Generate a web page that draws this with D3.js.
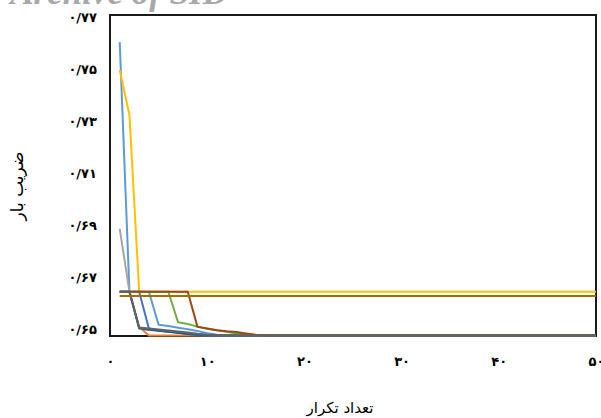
<!DOCTYPE html>
<html>
<head>
<meta charset="utf-8">
<script src="https://cdn.jsdelivr.net/npm/d3@7"></script>
<style>
  body { margin: 0; background: #fff; }
  svg { display: block; }
  .tick text { font-family: "DejaVu Sans", sans-serif; font-weight: bold; fill: #000; }
</style>
</head>
<body>
<svg id="chart" width="601" height="418"></svg>
<script>
// --- данные: значения по итерациям 1..50 ---
const xTicks = [0, 10, 20, 30, 40, 50];
const yTicks = [0.65, 0.67, 0.69, 0.71, 0.73, 0.75, 0.77];
const seriesColors = ["#5B9BD5", "#ED7D31", "#A5A5A5", "#FFC000", "#4472C4", "#70AD47", "#255E91", "#9E480E", "#636363", "#997300"];

const s1 = [0.7604, 0.6646, 0.6646, 0.6646, 0.6519, 0.6514, 0.6508, 0.6502, 0.6495, 0.6487,
  0.6481, 0.6478, 0.6478, 0.6478, 0.6478, 0.6478, 0.6478, 0.6478, 0.6478, 0.6478,
  0.6478, 0.6478, 0.6478, 0.6478, 0.6478, 0.6478, 0.6478, 0.6478, 0.6478, 0.6478,
  0.6478, 0.6478, 0.6478, 0.6478, 0.6478, 0.6478, 0.6478, 0.6478, 0.6478, 0.6478,
  0.6478, 0.6478, 0.6478, 0.6478, 0.6478, 0.6478, 0.6478, 0.6478, 0.6478, 0.6478];
const s2 = [0.6646, 0.6646, 0.6511, 0.6478, 0.6478, 0.6478, 0.6478, 0.6478, 0.6478, 0.6478,
  0.6478, 0.6478, 0.6478, 0.6478, 0.6478, 0.6478, 0.6478, 0.6478, 0.6478, 0.6478,
  0.6478, 0.6478, 0.6478, 0.6478, 0.6478, 0.6478, 0.6478, 0.6478, 0.6478, 0.6478,
  0.6478, 0.6478, 0.6478, 0.6478, 0.6478, 0.6478, 0.6478, 0.6478, 0.6478, 0.6478,
  0.6478, 0.6478, 0.6478, 0.6478, 0.6478, 0.6478, 0.6478, 0.6478, 0.6478, 0.6478];
const s3 = [0.6887, 0.6646, 0.6505, 0.6500, 0.6497, 0.6493, 0.6490, 0.6486, 0.6482, 0.6479,
  0.6478, 0.6478, 0.6478, 0.6478, 0.6478, 0.6478, 0.6478, 0.6478, 0.6478, 0.6478,
  0.6478, 0.6478, 0.6478, 0.6478, 0.6478, 0.6478, 0.6478, 0.6478, 0.6478, 0.6478,
  0.6478, 0.6478, 0.6478, 0.6478, 0.6478, 0.6478, 0.6478, 0.6478, 0.6478, 0.6478,
  0.6478, 0.6478, 0.6478, 0.6478, 0.6478, 0.6478, 0.6478, 0.6478, 0.6478, 0.6478];
const s4 = [0.7497, 0.7324, 0.6646, 0.6646, 0.6646, 0.6646, 0.6646, 0.6646, 0.6646, 0.6646,
  0.6646, 0.6646, 0.6646, 0.6646, 0.6646, 0.6646, 0.6646, 0.6646, 0.6646, 0.6646,
  0.6646, 0.6646, 0.6646, 0.6646, 0.6646, 0.6646, 0.6646, 0.6646, 0.6646, 0.6646,
  0.6646, 0.6646, 0.6646, 0.6646, 0.6646, 0.6646, 0.6646, 0.6646, 0.6646, 0.6646,
  0.6646, 0.6646, 0.6646, 0.6646, 0.6646, 0.6646, 0.6646, 0.6646, 0.6646, 0.6646];
const s5 = [0.6646, 0.6646, 0.6646, 0.6505, 0.6497, 0.6492, 0.6488, 0.6484, 0.6480, 0.6478,
  0.6478, 0.6478, 0.6478, 0.6478, 0.6478, 0.6478, 0.6478, 0.6478, 0.6478, 0.6478,
  0.6478, 0.6478, 0.6478, 0.6478, 0.6478, 0.6478, 0.6478, 0.6478, 0.6478, 0.6478,
  0.6478, 0.6478, 0.6478, 0.6478, 0.6478, 0.6478, 0.6478, 0.6478, 0.6478, 0.6478,
  0.6478, 0.6478, 0.6478, 0.6478, 0.6478, 0.6478, 0.6478, 0.6478, 0.6478, 0.6478];
const s6 = [0.6646, 0.6646, 0.6646, 0.6646, 0.6646, 0.6646, 0.6529, 0.6522, 0.6512, 0.6504,
  0.6498, 0.6492, 0.6486, 0.6481, 0.6478, 0.6478, 0.6478, 0.6478, 0.6478, 0.6478,
  0.6478, 0.6478, 0.6478, 0.6478, 0.6478, 0.6478, 0.6478, 0.6478, 0.6478, 0.6478,
  0.6478, 0.6478, 0.6478, 0.6478, 0.6478, 0.6478, 0.6478, 0.6478, 0.6478, 0.6478,
  0.6478, 0.6478, 0.6478, 0.6478, 0.6478, 0.6478, 0.6478, 0.6478, 0.6478, 0.6478];
const s7 = [0.6646, 0.6646, 0.6506, 0.6500, 0.6496, 0.6492, 0.6488, 0.6484, 0.6481, 0.6478,
  0.6478, 0.6478, 0.6478, 0.6478, 0.6478, 0.6478, 0.6478, 0.6478, 0.6478, 0.6478,
  0.6478, 0.6478, 0.6478, 0.6478, 0.6478, 0.6478, 0.6478, 0.6478, 0.6478, 0.6478,
  0.6478, 0.6478, 0.6478, 0.6478, 0.6478, 0.6478, 0.6478, 0.6478, 0.6478, 0.6478,
  0.6478, 0.6478, 0.6478, 0.6478, 0.6478, 0.6478, 0.6478, 0.6478, 0.6478, 0.6478];
const s8 = [0.6646, 0.6646, 0.6646, 0.6646, 0.6646, 0.6646, 0.6646, 0.6646, 0.6511, 0.6505,
  0.6498, 0.6494, 0.6491, 0.6486, 0.6481, 0.6478, 0.6478, 0.6478, 0.6478, 0.6478,
  0.6478, 0.6478, 0.6478, 0.6478, 0.6478, 0.6478, 0.6478, 0.6478, 0.6478, 0.6478,
  0.6478, 0.6478, 0.6478, 0.6478, 0.6478, 0.6478, 0.6478, 0.6478, 0.6478, 0.6478,
  0.6478, 0.6478, 0.6478, 0.6478, 0.6478, 0.6478, 0.6478, 0.6478, 0.6478, 0.6478];
const s9 = [0.6646, 0.6646, 0.6509, 0.6505, 0.6501, 0.6497, 0.6493, 0.6489, 0.6485, 0.6482,
  0.6480, 0.6478, 0.6478, 0.6478, 0.6478, 0.6478, 0.6478, 0.6478, 0.6478, 0.6478,
  0.6478, 0.6478, 0.6478, 0.6478, 0.6478, 0.6478, 0.6478, 0.6478, 0.6478, 0.6478,
  0.6478, 0.6478, 0.6478, 0.6478, 0.6478, 0.6478, 0.6478, 0.6478, 0.6478, 0.6478,
  0.6478, 0.6478, 0.6478, 0.6478, 0.6478, 0.6478, 0.6478, 0.6478, 0.6478, 0.6478];
const s10 = [0.6630, 0.6630, 0.6630, 0.6630, 0.6630, 0.6630, 0.6630, 0.6630, 0.6630, 0.6630,
  0.6630, 0.6630, 0.6630, 0.6630, 0.6630, 0.6630, 0.6630, 0.6630, 0.6630, 0.6630,
  0.6630, 0.6630, 0.6630, 0.6630, 0.6630, 0.6630, 0.6630, 0.6630, 0.6630, 0.6630,
  0.6630, 0.6630, 0.6630, 0.6630, 0.6630, 0.6630, 0.6630, 0.6630, 0.6630, 0.6630,
  0.6630, 0.6630, 0.6630, 0.6630, 0.6630, 0.6630, 0.6630, 0.6630, 0.6630, 0.6630];

const allSeries = [s1, s2, s3, s4, s5, s6, s7, s8, s9, s10];

// перевод в персидские цифры, десятичный разделитель "/"
const faDigits = "۰۱۲۳۴۵۶۷۸۹";
function toFa(str) {
  return String(str).replace(/\d/g, d => faDigits[+d]).replace(".", "/");
}

const svg = d3.select("#chart");
const plot = { left: 110, top: 15, right: 596, bottom: 336 };

const x = d3.scaleLinear().domain([0, 50]).range([plot.left, plot.right]);
const y = d3.scaleLinear().domain([0.6476, 0.7708]).range([plot.bottom, plot.top]);

// водяной знак сверху (обрезан краем)
svg.append("text")
  .attr("x", 228).attr("y", 4)
  .attr("text-anchor", "end")
  .style("font-family", "'Liberation Serif', serif")
  .style("font-style", "italic").style("font-weight", "bold")
  .style("font-size", "35px").style("fill", "#a8a8a8")
  .text("Archive of SID");

// рамка области построения
svg.append("rect")
  .attr("x", plot.left).attr("y", plot.top)
  .attr("width", plot.right - plot.left).attr("height", plot.bottom - plot.top)
  .attr("fill", "#fff").attr("stroke", "#1a1a1a").attr("stroke-width", 2);

// оси
svg.append("g")
  .attr("transform", `translate(${plot.left},0)`)
  .call(d3.axisLeft(y).tickValues(yTicks).tickSize(0).tickPadding(13).tickFormat(d => toFa(d3.format(".2f")(d))))
  .call(g => g.select(".domain").remove())
  .selectAll("text").style("font-size", "13px");

svg.append("g")
  .attr("transform", `translate(0,${plot.bottom})`)
  .call(d3.axisBottom(x).tickValues(xTicks).tickSize(0).tickPadding(21).tickFormat(d => toFa(d)))
  .call(g => g.select(".domain").remove())
  .selectAll("text").style("font-size", "13px");

// линии серий
const line = d3.line().x((d, i) => x(i + 1)).y(d => y(d));
allSeries.forEach((vals, k) => {
  svg.append("path")
    .datum(vals)
    .attr("fill", "none")
    .attr("stroke", seriesColors[k])
    .attr("stroke-width", 2)
    .attr("stroke-linejoin", "round")
    .attr("d", line);
});

// подписи осей
svg.append("text")
  .attr("x", 340).attr("y", 413)
  .attr("text-anchor", "middle")
  .style("font-family", "'DejaVu Sans', sans-serif").style("font-size", "15px")
  .text("تعداد تکرار");

svg.append("text")
  .attr("transform", "translate(23,186) rotate(-90)")
  .attr("text-anchor", "middle")
  .style("font-family", "'DejaVu Sans', sans-serif").style("font-size", "17px")
  .text("ضریب بار");
</script>
</body>
</html>
